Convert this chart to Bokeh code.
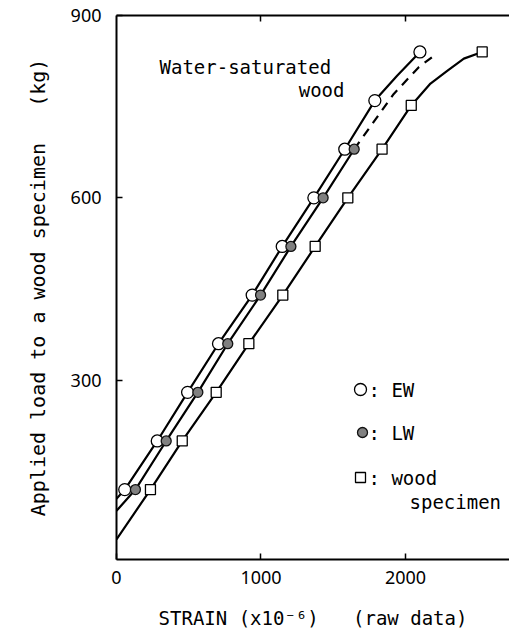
import math
from bokeh.plotting import figure
from bokeh.models import Range1d, LinearAxis, FixedTicker, Label
from bokeh.embed import file_html
from bokeh.resources import INLINE

# ---------------- data ----------------
# applied load levels (kg)
ew_load = [120, 200, 280, 360, 440, 520, 600, 680, 760, 840]
ew_strain = [57, 282, 492, 706, 939, 1147, 1366, 1580, 1788, 2100]

lw_load = [120, 200, 280, 360, 440, 520, 600, 680]
lw_strain = [131, 344, 563, 770, 997, 1207, 1430, 1645]

ws_load = [120, 200, 280, 360, 440, 520, 600, 680, 752, 840]
ws_strain = [235, 455, 690, 916, 1151, 1375, 1601, 1838, 2040, 2531]

# drawn fitting curves
ew_curve_strain = [0, 57, 282, 492, 706, 939, 1147, 1366, 1580, 1788, 1942, 2100]
ew_curve_load = [105, 120, 200, 280, 360, 440, 520, 600, 680, 760, 801, 840]

lw_curve_strain = [0, 131, 344, 563, 770, 997, 1207, 1430, 1645]
lw_curve_load = [85, 120, 200, 280, 360, 440, 520, 600, 680]

lw_dash_strain = [1645, 1919, 2092, 2215]
lw_dash_load = [680, 771, 815, 837]

ws_curve_strain = [0, 235, 455, 690, 916, 1151, 1375, 1601, 1838, 2040, 2173, 2289, 2404, 2531]
ws_curve_load = [38, 120, 200, 280, 360, 440, 520, 600, 680, 752, 788, 809, 829, 840]

x_ticks = [0, 1000, 2000]
y_ticks = [300, 600, 900]
top_ticks = [1000, 2000]
legend_labels = [": EW", ": LW", ": wood"]
NB = "\u00a0"
x_title = "STRAIN" + NB + "(x10\u207b\u2076)" + NB * 3 + "(raw" + NB + "data)"
y_title = ("Applied" + NB + "load" + NB + "to" + NB + "a" + NB + "wood" + NB + "specimen"
           + NB * 3 + "(kg)")

# ---------------- layout ----------------
W, H = 509, 640
FL, FT, FB = 116, 15, 559
X0, X1 = 0, 2720
Y0, Y1 = 5, 900

def dx(px):
    return X0 + (px - FL) / (W - FL) * (X1 - X0)

def dy(py):
    return Y0 + (FB - py) / (FB - FT) * (Y1 - Y0)

MONO = "DejaVu Sans Mono"
TICKF = "Noto Sans"

p = figure(width=W, height=H, x_range=Range1d(X0, X1), y_range=Range1d(Y0, Y1),
           output_backend="svg", toolbar_location=None,
           min_border_left=FL, min_border_right=0, min_border_top=FT,
           min_border_bottom=H - FB, background_fill_color="white",
           border_fill_color="white")
p.outline_line_color = None
p.xgrid.visible = False
p.ygrid.visible = False

for ax in p.xaxis:
    ax.ticker = FixedTicker(ticks=x_ticks)
    ax.major_tick_in = 6
    ax.major_tick_out = 0
    ax.minor_tick_line_color = None
    ax.axis_line_width = 2
    ax.major_tick_line_width = 1.5
    ax.major_label_text_font = TICKF
    ax.major_label_text_font_size = "18px"
    ax.major_label_text_color = "black"
    ax.major_label_standoff = 11
    ax.axis_label = x_title
    ax.axis_label_text_font = MONO
    ax.axis_label_text_font_size = "19px"
    ax.axis_label_text_font_style = "normal"
    ax.axis_label_text_color = "black"
    ax.axis_label_standoff = 20

for ax in p.yaxis:
    ax.ticker = FixedTicker(ticks=y_ticks)
    ax.major_tick_in = 6
    ax.major_tick_out = 0
    ax.minor_tick_line_color = None
    ax.axis_line_width = 2
    ax.major_tick_line_width = 1.5
    ax.major_label_text_font = TICKF
    ax.major_label_text_font_size = "18px"
    ax.major_label_text_color = "black"
    ax.major_label_standoff = 15
    ax.major_label_orientation = "horizontal"
    ax.axis_label = y_title
    ax.axis_label_text_font = MONO
    ax.axis_label_text_font_size = "20px"
    ax.axis_label_text_font_style = "normal"
    ax.axis_label_text_color = "black"
    ax.axis_label_standoff = 18

top = LinearAxis(ticker=FixedTicker(ticks=top_ticks), major_tick_in=6, major_tick_out=0,
                 minor_tick_line_color=None, axis_line_width=2, major_tick_line_width=1.5,
                 major_label_overrides={t: "" for t in top_ticks},
                 major_label_text_font_size="10px", major_label_standoff=0)
p.add_layout(top, "above")

# ---------------- curves ----------------
p.line(ew_curve_strain, ew_curve_load, line_width=2.2, line_color="black")
p.line(lw_curve_strain, lw_curve_load, line_width=2.2, line_color="black")
p.line(lw_dash_strain, lw_dash_load, line_width=2.2, line_color="black", line_dash="9 7")
p.line(ws_curve_strain, ws_curve_load, line_width=2.2, line_color="black")

# ---------------- markers ----------------
p.scatter(ws_strain, ws_load, marker="square", size=10, fill_color="white",
          line_color="black", line_width=1.3)
p.scatter(ew_strain, ew_load, marker="circle", size=12, fill_color="white",
          line_color="black", line_width=1.3)
p.scatter(lw_strain, lw_load, marker="circle", size=10, fill_color="#808080",
          line_color="#111111", line_width=1.3)

# ---------------- legend (drawn in the plot) ----------------
leg_y = [389, 432, 477]
p.scatter([dx(360)], [dy(leg_y[0])], marker="circle", size=12, fill_color="white",
          line_color="black", line_width=1.3)
p.scatter([dx(362)], [dy(leg_y[1])], marker="circle", size=10, fill_color="#808080",
          line_color="#111111", line_width=1.3)
p.scatter([dx(360)], [dy(leg_y[2])], marker="square", size=10, fill_color="white",
          line_color="black", line_width=1.3)
for lab, yy in zip(legend_labels, leg_y):
    p.add_layout(Label(x=dx(368), y=dy(yy), text=lab, text_font=MONO,
                       text_font_size="19px", text_align="left", text_baseline="middle",
                       text_color="black"))
p.add_layout(Label(x=dx(409), y=dy(501), text="specimen", text_font=MONO,
                   text_font_size="19px", text_align="left", text_baseline="middle",
                   text_color="black"))

# ---------------- annotation text ----------------
p.add_layout(Label(x=dx(159), y=dy(66), text="Water-saturated", text_font=MONO,
                   text_font_size="19px", text_align="left", text_baseline="middle",
                   text_color="black"))
p.add_layout(Label(x=dx(344), y=dy(89), text="wood", text_font=MONO,
                   text_font_size="19px", text_align="right", text_baseline="middle",
                   text_color="black"))

open("out.html", "w").write(file_html(p, INLINE))
